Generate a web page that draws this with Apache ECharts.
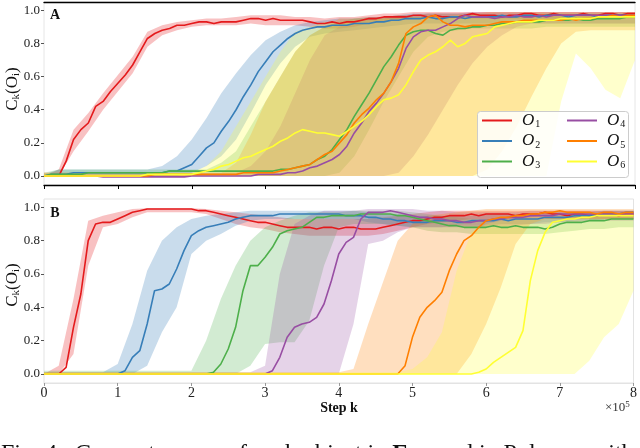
<!DOCTYPE html>
<html><head><meta charset="utf-8">
<script src="https://cdn.jsdelivr.net/npm/echarts@6/dist/echarts.min.js"></script>
<style>html,body{margin:0;padding:0;background:#fff}#c{width:640px;height:448px}</style>
</head><body><div id="c"></div>
<script>
// ---------- data ----------
const steps = [0,0.1,0.2,0.3,0.4,0.5,0.6,0.7,0.8,0.9,1,1.1,1.2,1.3,1.4,1.5,1.6,1.7,1.8,1.9,2,2.1,2.2,2.3,2.4,2.5,2.6,2.7,2.8,2.9,3,3.1,3.2,3.3,3.4,3.5,3.6,3.7,3.8,3.9,4,4.1,4.2,4.3,4.4,4.5,4.6,4.7,4.8,4.9,5,5.1,5.2,5.3,5.4,5.5,5.6,5.7,5.8,5.9,6,6.1,6.2,6.3,6.4,6.5,6.6,6.7,6.8,6.9,7,7.1,7.2,7.3,7.4,7.5,7.6,7.7,7.8,7.9,8];
const bandSteps = [0,0.2,0.4,0.6,0.8,1,1.2,1.4,1.6,1.8,2,2.2,2.4,2.6,2.8,3,3.2,3.4,3.6,3.8,4,4.2,4.4,4.6,4.8,5,5.2,5.4,5.6,5.8,6,6.2,6.4,6.6,6.8,7,7.2,7.4,7.6,7.8,8];
const objectNames = ['O1','O2','O3','O4','O5','O6'];
const xTicks = [0,1,2,3,4,5,6,7,8];
const yTicks = [0,0.2,0.4,0.6,0.8,1.0];

// Panel A means
const aO1 = [0,0,0,0.09,0.22,0.28,0.32,0.42,0.45,0.51,
 0.56,0.61,0.67,0.75,0.83,0.86,0.88,0.89,0.91,0.91,
 0.92,0.93,0.93,0.92,0.93,0.93,0.93,0.94,0.95,0.95,
 0.94,0.95,0.94,0.94,0.94,0.94,0.93,0.92,0.92,0.93,
 0.92,0.93,0.93,0.94,0.95,0.95,0.96,0.96,0.96,0.96,
 0.97,0.97,0.96,0.97,0.96,0.96,0.96,0.97,0.98,0.97,
 0.97,0.97,0.96,0.97,0.97,0.98,0.98,0.97,0.97,0.98,
 0.97,0.97,0.97,0.98,0.97,0.97,0.98,0.98,0.97,0.98,0.98];
const aO2 = [0,0.01,0.01,0.01,0.02,0.02,0.02,0.02,0.02,0.02,
 0.02,0.02,0.02,0.02,0.02,0.02,0.02,0.03,0.03,0.05,
 0.07,0.12,0.17,0.20,0.27,0.33,0.40,0.48,0.55,0.63,
 0.69,0.75,0.79,0.83,0.86,0.88,0.89,0.90,0.90,0.91,
 0.91,0.91,0.92,0.92,0.92,0.93,0.93,0.94,0.94,0.95,
 0.95,0.95,0.96,0.95,0.95,0.96,0.96,0.95,0.96,0.96,
 0.96,0.96,0.97,0.96,0.96,0.97,0.97,0.96,0.97,0.97,
 0.97,0.96,0.97,0.97,0.97,0.96,0.97,0.97,0.97,0.97,0.97];
const aO3 = [0,0.01,0.01,0.01,0.01,0.01,0.02,0.02,0.02,0.02,
 0.02,0.02,0.02,0.02,0.02,0.02,0.02,0.03,0.03,0.03,
 0.03,0.03,0.03,0.03,0.03,0.03,0.03,0.03,0.03,0.03,
 0.03,0.03,0.04,0.04,0.05,0.06,0.07,0.10,0.12,0.16,
 0.22,0.28,0.36,0.43,0.50,0.58,0.66,0.72,0.79,0.85,
 0.87,0.88,0.88,0.86,0.85,0.88,0.89,0.89,0.90,0.90,
 0.91,0.91,0.92,0.92,0.93,0.93,0.93,0.93,0.94,0.94,
 0.94,0.94,0.95,0.94,0.94,0.95,0.95,0.95,0.95,0.96,0.96];
const aO4 = [0,0,0,0,0,0,0,0,-0.005,-0.005,
 -0.005,-0.005,-0.005,-0.005,-0.005,-0.005,-0.005,-0.005,-0.005,-0.005,
 0,0,0,0,0,0,0,0,0,0.01,
 0.01,0.01,0.01,0.02,0.02,0.03,0.05,0.06,0.08,0.10,
 0.13,0.18,0.26,0.32,0.39,0.44,0.50,0.57,0.65,0.77,
 0.84,0.87,0.88,0.88,0.90,0.92,0.95,0.97,0.96,0.96,
 0.96,0.95,0.96,0.96,0.97,0.96,0.96,0.97,0.96,0.97,
 0.97,0.97,0.97,0.97,0.97,0.97,0.97,0.97,0.97,0.97,0.97];
const aO5 = [0,0,0,0,0,0,0,0,0,0,
 0,0,0,0,0,0.01,0.01,0.01,0.01,0.01,
 0.01,0.01,0.01,0.01,0.01,0.01,0.01,0.02,0.02,0.02,
 0.02,0.02,0.03,0.04,0.05,0.06,0.07,0.10,0.13,0.15,
 0.20,0.25,0.32,0.37,0.41,0.46,0.50,0.57,0.68,0.86,
 0.90,0.92,0.96,0.97,0.93,0.91,0.91,0.90,0.91,0.91,
 0.91,0.92,0.93,0.93,0.93,0.94,0.94,0.94,0.94,0.94,
 0.94,0.95,0.94,0.95,0.95,0.96,0.96,0.97,0.96,0.97,0.97];
const aO6 = [0,0,0,0,0,0,0,0,0,0,
 0,0,0,0,0.01,0.01,0.01,0.01,0.01,0.01,
 0.01,0.02,0.03,0.04,0.06,0.07,0.09,0.11,0.12,0.14,
 0.16,0.18,0.21,0.23,0.26,0.28,0.27,0.26,0.26,0.25,
 0.24,0.27,0.30,0.33,0.37,0.42,0.46,0.47,0.49,0.55,
 0.63,0.70,0.73,0.75,0.78,0.82,0.78,0.80,0.84,0.85,
 0.86,0.90,0.91,0.92,0.93,0.93,0.93,0.94,0.94,0.94,
 0.95,0.95,0.95,0.95,0.95,0.96,0.96,0.96,0.96,0.96,0.96];

// Panel A bands (lower / upper)
const aO1Lo = [0,0,0.15,0.27,0.40,0.51,0.62,0.78,0.85,0.88,0.90,0.91,0.91,0.91,0.92,0.91,0.91,0.91,0.90,0.89,0.89,0.90,0.92,0.93,0.94,0.95,0.95,0.95,0.95,0.95,0.95,0.95,0.95,0.95,0.95,0.95,0.95,0.95,0.95,0.95,0.95];
const aO1Hi = [0,0.04,0.28,0.38,0.50,0.61,0.72,0.87,0.91,0.93,0.94,0.95,0.95,0.96,0.97,0.97,0.97,0.96,0.96,0.95,0.96,0.96,0.97,0.98,0.98,0.99,0.99,0.99,0.99,0.99,0.99,0.99,0.99,0.99,0.99,0.99,0.99,0.99,0.99,0.99,0.99];
const aO2Lo = [0,0,0,0,0,0,0,0,0,0,0.02,0.06,0.12,0.22,0.38,0.55,0.68,0.78,0.84,0.86,0.87,0.88,0.89,0.90,0.91,0.92,0.92,0.92,0.92,0.92,0.92,0.92,0.92,0.92,0.92,0.92,0.92,0.92,0.92,0.92,0.92];
const aO2Hi = [0.01,0.04,0.04,0.04,0.04,0.04,0.04,0.04,0.06,0.12,0.22,0.35,0.50,0.62,0.73,0.82,0.87,0.91,0.93,0.94,0.95,0.95,0.96,0.96,0.97,0.98,0.98,0.98,0.98,0.98,0.98,0.98,0.98,0.98,0.98,0.98,0.98,0.98,0.98,0.98,0.98];
const aO3Lo = [0,0,0,0,0,0,0,0,0,0,0,0,0,0,0,0,0,0,0,0,0.02,0.12,0.28,0.45,0.60,0.75,0.84,0.87,0.88,0.89,0.89,0.89,0.89,0.89,0.90,0.90,0.90,0.90,0.90,0.90,0.90];
const aO3Hi = [0.02,0.04,0.04,0.04,0.04,0.04,0.04,0.04,0.04,0.04,0.04,0.04,0.08,0.15,0.30,0.45,0.60,0.75,0.85,0.90,0.93,0.95,0.95,0.95,0.96,0.96,0.96,0.96,0.97,0.97,0.97,0.97,0.97,0.97,0.97,0.97,0.97,0.97,0.97,0.97,0.97];
const aO4Lo = [0,0,0,0,0,0,0,0,0,0,0,0,0,0,0,0,0,0,0,0,0,0,0,0,0.02,0.12,0.25,0.40,0.55,0.68,0.78,0.85,0.90,0.92,0.92,0.92,0.92,0.92,0.92,0.92,0.92];
const aO4Hi = [0.02,0.02,0.02,0.02,0.02,0.02,0.02,0.02,0.02,0.02,0.02,0.02,0.02,0.02,0.06,0.15,0.30,0.50,0.70,0.85,0.90,0.93,0.96,0.96,0.97,0.97,0.98,0.98,0.98,0.99,0.99,0.99,0.99,0.99,0.99,0.99,0.99,0.99,0.99,0.99,0.99];
const aO5Lo = [0,0,0,0,0,0,0,0,0,0,0,0,0,0,0,0,0,0,0,0,0,0,0,0,0,0,0,0,0,0,0.04,0.15,0.30,0.48,0.65,0.80,0.87,0.88,0.88,0.88,0.88];
const aO5Hi = [0.02,0.02,0.02,0.02,0.02,0.02,0.02,0.02,0.02,0.02,0.02,0.02,0.02,0.08,0.25,0.45,0.60,0.75,0.85,0.90,0.95,0.95,0.96,0.96,0.97,0.97,0.98,0.98,0.98,0.98,0.99,0.99,0.99,0.99,0.99,0.99,0.99,0.99,0.99,0.99,0.99];
const aO6Lo = [0,0,0,0,0,0,0,0,0,0,0,0,0,0,0,0,0,0,0,0,0,0,0,0,0,0,0,0,0,0,0,0,0,0,0,0.45,0.74,0.65,0.52,0.47,0.70];
const aO6Hi = [0.02,0.02,0.02,0.02,0.02,0.02,0.02,0.02,0.02,0.02,0.02,0.06,0.15,0.30,0.45,0.60,0.75,0.87,0.90,0.93,0.93,0.94,0.94,0.95,0.95,0.96,0.96,0.96,0.97,0.97,0.97,0.97,0.97,0.98,0.98,0.98,0.98,0.98,0.98,0.98,0.98];

// Panel B means
const bO1 = [0,0,0,0.04,0.28,0.48,0.80,0.90,0.91,0.91,
 0.93,0.95,0.97,0.98,0.99,0.99,0.99,0.99,0.99,0.99,
 0.99,0.98,0.98,0.97,0.96,0.95,0.94,0.93,0.92,0.91,
 0.91,0.90,0.89,0.88,0.88,0.88,0.88,0.87,0.88,0.88,
 0.87,0.88,0.88,0.87,0.87,0.87,0.88,0.89,0.90,0.91,
 0.92,0.92,0.93,0.94,0.94,0.95,0.95,0.95,0.96,0.95,
 0.96,0.96,0.96,0.96,0.95,0.96,0.96,0.96,0.97,0.96,
 0.96,0.95,0.96,0.96,0.95,0.95,0.96,0.96,0.95,0.96,0.96];
const bO2 = [0,0,0,0,0,0,0,0,0,0,
 0,0.02,0.10,0.14,0.30,0.50,0.51,0.54,0.63,0.74,
 0.83,0.86,0.88,0.89,0.90,0.91,0.93,0.94,0.95,0.95,
 0.95,0.95,0.96,0.96,0.96,0.96,0.96,0.96,0.96,0.96,
 0.96,0.95,0.95,0.95,0.94,0.94,0.93,0.93,0.92,0.92,
 0.91,0.91,0.91,0.92,0.92,0.92,0.91,0.91,0.92,0.92,
 0.92,0.92,0.93,0.92,0.93,0.93,0.93,0.93,0.94,0.94,
 0.94,0.94,0.95,0.95,0.95,0.95,0.96,0.96,0.96,0.97,0.97];
const bO3 = [0,0,0,0,0,0,0,0,0,0,
 0,0,0,0,0,0,0,0,0,0,
 0,0,0,0.01,0.06,0.15,0.28,0.50,0.65,0.65,
 0.70,0.76,0.84,0.86,0.87,0.88,0.91,0.94,0.94,0.95,
 0.95,0.95,0.95,0.96,0.96,0.96,0.96,0.96,0.95,0.95,
 0.94,0.93,0.92,0.91,0.90,0.89,0.89,0.88,0.88,0.88,
 0.88,0.89,0.88,0.88,0.89,0.88,0.88,0.88,0.87,0.88,
 0.90,0.91,0.91,0.91,0.92,0.92,0.92,0.93,0.93,0.93,0.93];
const bO4 = [0,0,0,0,0,0,0,0,0,0,
 0,0,0,0,0,0,0,0,0,0,
 0,0,0,0,0,0,0,0,0,0,
 0,0.02,0.10,0.22,0.28,0.30,0.31,0.34,0.42,0.56,
 0.72,0.79,0.82,0.93,0.97,0.97,0.97,0.98,0.97,0.96,
 0.95,0.94,0.94,0.93,0.93,0.92,0.92,0.91,0.91,0.92,
 0.92,0.93,0.93,0.94,0.94,0.94,0.95,0.95,0.95,0.95,
 0.96,0.96,0.96,0.96,0.96,0.96,0.96,0.96,0.96,0.96,0.96];
const bO5 = [0,0,0,0,0,0,0,0,0,0,
 0,0,0,0,0,0,0,0,0,0,
 0,0,0,0,0,0,0,0,0,0,
 0,0,0,0,0,0,0,0,0,0,
 0,0,0,0,0,0,0,0,0,0.05,
 0.22,0.34,0.40,0.44,0.49,0.62,0.72,0.80,0.83,0.88,
 0.92,0.93,0.94,0.94,0.95,0.95,0.96,0.96,0.97,0.97,
 0.98,0.97,0.97,0.97,0.97,0.96,0.97,0.97,0.96,0.97,0.97];
const bO6 = [0,0,0,0,0,0,0,0,0,0,
 0,0,0,0,0,0,0,0,0,0,
 0,0,0,0,0,0,0,0,0,0,
 0,0,0,0,0,0,0,0,0,0,
 0,0,0,0,0,0,0,0,0,0,
 0,0,0,0,0,0,0,0,0,0.01,
 0.03,0.07,0.10,0.13,0.16,0.26,0.56,0.74,0.85,0.91,
 0.92,0.93,0.93,0.94,0.94,0.95,0.95,0.95,0.95,0.95,0.95];

// Panel B bands (lower / upper)
const bO1Lo = [0,0,0.12,0.65,0.88,0.90,0.94,0.97,0.97,0.97,0.97,0.96,0.93,0.90,0.88,0.87,0.85,0.84,0.83,0.83,0.83,0.83,0.83,0.84,0.86,0.88,0.90,0.91,0.92,0.93,0.93,0.93,0.93,0.93,0.93,0.93,0.93,0.93,0.93,0.93,0.93];
const bO1Hi = [0,0.05,0.45,0.92,0.95,0.97,0.99,0.995,0.995,0.995,0.995,0.99,0.98,0.97,0.96,0.95,0.94,0.93,0.93,0.93,0.93,0.93,0.93,0.94,0.95,0.96,0.97,0.98,0.98,0.98,0.98,0.98,0.98,0.98,0.98,0.98,0.98,0.98,0.98,0.98,0.98];
const bO2Lo = [0,0,0,0,0,0,0,0.05,0.25,0.40,0.72,0.80,0.84,0.89,0.92,0.93,0.93,0.93,0.93,0.93,0.93,0.93,0.91,0.90,0.89,0.88,0.88,0.88,0.89,0.89,0.89,0.90,0.90,0.90,0.91,0.91,0.92,0.92,0.93,0.93,0.93];
const bO2Hi = [0.01,0.01,0.01,0.01,0.01,0.06,0.30,0.62,0.80,0.88,0.93,0.95,0.96,0.97,0.98,0.98,0.98,0.98,0.98,0.98,0.98,0.98,0.97,0.96,0.96,0.95,0.95,0.95,0.95,0.95,0.96,0.96,0.96,0.96,0.97,0.97,0.97,0.97,0.98,0.98,0.98];
const bO3Lo = [0,0,0,0,0,0,0,0,0,0,0,0,0,0,0.05,0.18,0.19,0.19,0.32,0.65,0.88,0.90,0.90,0.90,0.89,0.88,0.86,0.85,0.85,0.84,0.84,0.84,0.84,0.84,0.84,0.85,0.86,0.87,0.87,0.88,0.88];
const bO3Hi = [0.02,0.02,0.02,0.02,0.02,0.02,0.02,0.02,0.02,0.02,0.02,0.20,0.45,0.65,0.80,0.88,0.92,0.95,0.97,0.97,0.97,0.98,0.98,0.98,0.98,0.97,0.96,0.95,0.94,0.93,0.93,0.93,0.93,0.93,0.93,0.94,0.95,0.96,0.96,0.96,0.96];
const bO4Lo = [0,0,0,0,0,0,0,0,0,0,0,0,0,0,0,0,0,0,0,0,0,0.30,0.78,0.80,0.85,0.88,0.88,0.88,0.88,0.88,0.88,0.89,0.89,0.90,0.90,0.91,0.91,0.92,0.92,0.92,0.92];
const bO4Hi = [0.01,0.01,0.01,0.01,0.01,0.01,0.01,0.01,0.01,0.01,0.01,0.01,0.01,0.01,0.01,0.05,0.60,0.90,0.95,0.98,0.98,0.98,0.99,0.99,0.99,0.99,0.98,0.98,0.97,0.97,0.97,0.97,0.97,0.98,0.98,0.98,0.98,0.98,0.98,0.98,0.98];
const bO5Lo = [0,0,0,0,0,0,0,0,0,0,0,0,0,0,0,0,0,0,0,0,0,0,0,0,0,0,0,0,0,0.12,0.30,0.52,0.78,0.90,0.93,0.93,0.93,0.93,0.93,0.93,0.93];
const bO5Hi = [0.01,0.01,0.01,0.01,0.01,0.01,0.01,0.01,0.01,0.01,0.01,0.01,0.01,0.01,0.01,0.01,0.01,0.01,0.01,0.01,0.01,0.03,0.30,0.55,0.80,0.90,0.95,0.96,0.97,0.98,0.99,0.99,0.99,0.99,0.99,0.99,0.99,0.99,0.99,0.99,0.99];
const bO6Lo = [0,0,0,0,0,0,0,0,0,0,0,0,0,0,0,0,0,0,0,0,0,0,0,0,0,0,0,0,0,0,0,0,0,0,0,0,0,0.08,0.22,0.30,0.50];
const bO6Hi = [0.01,0.01,0.01,0.01,0.01,0.01,0.01,0.01,0.01,0.01,0.01,0.01,0.01,0.01,0.01,0.01,0.01,0.01,0.01,0.01,0.01,0.01,0.01,0.01,0.01,0.03,0.10,0.25,0.62,0.85,0.90,0.92,0.93,0.94,0.95,0.95,0.95,0.95,0.96,0.96,0.96];

// ---------- styles ----------
const serif = 'Liberation Serif';
const lineColors = ['#e41a1c','#377eb8','#4daf4a','#984ea3','#ff7f00','#ffff33'];
const bandColors = ['rgba(228,26,28,0.27)','rgba(55,126,184,0.27)','rgba(77,175,74,0.25)','rgba(152,78,163,0.25)','rgba(255,127,0,0.25)','rgba(255,255,51,0.25)'];

const panelA = {means:[aO1,aO2,aO3,aO4,aO5,aO6], lo:[aO1Lo,aO2Lo,aO3Lo,aO4Lo,aO5Lo,aO6Lo], hi:[aO1Hi,aO2Hi,aO3Hi,aO4Hi,aO5Hi,aO6Hi]};
const panelB = {means:[bO1,bO2,bO3,bO4,bO5,bO6], lo:[bO1Lo,bO2Lo,bO3Lo,bO4Lo,bO5Lo,bO6Lo], hi:[bO1Hi,bO2Hi,bO3Hi,bO4Hi,bO5Hi,bO6Hi]};

function bandSeries(xi, yi, lo, hi, color, z) {
  return {
    type: 'custom', xAxisIndex: xi, yAxisIndex: yi, silent: true, clip: true,
    animation: false, z: z, data: [[0, 0]], encode: {x: 0, y: 1},
    renderItem: function (params, api) {
      const pts = [];
      for (let i = 0; i < bandSteps.length; i++) pts.push(api.coord([bandSteps[i], hi[i]]));
      for (let i = bandSteps.length - 1; i >= 0; i--) pts.push(api.coord([bandSteps[i], lo[i]]));
      return {type: 'polygon', shape: {points: pts}, style: {fill: color}};
    }
  };
}
function lineSeries(xi, yi, name, vals, color) {
  return {
    type: 'line', name: name, xAxisIndex: xi, yAxisIndex: yi, showSymbol: false, symbol: 'none',
    animation: false, z: 3, silent: true,
    data: steps.map((s, i) => [s, vals[i]]),
    lineStyle: {color: color, width: 1.6}, itemStyle: {color: color}
  };
}

const series = [];
[[panelA, 0, 0], [panelB, 2, 1]].forEach(function (p) {
  const d = p[0], xi = p[1], yi = p[2];
  for (let k = 0; k < 6; k++) series.push(bandSeries(xi, yi, d.lo[k], d.hi[k], bandColors[k], 1));
  for (let k = 0; k < 6; k++) series.push(lineSeries(xi, yi, objectNames[k], d.means[k], lineColors[k]));
});

function yAxisDef(gi) {
  return {
    type: 'value', gridIndex: gi, min: -0.054, max: 1.05,
    axisLine: {show: false}, splitLine: {show: false},
    axisTick: {show: true, length: 3, customValues: yTicks, lineStyle: {color: '#555'}},
    axisLabel: {customValues: yTicks, formatter: v => v.toFixed(1), fontFamily: serif, fontSize: 13, color: '#222', margin: 4}
  };
}

const legendText = {
  fontFamily: serif, color: '#111', padding: [0, 0, 0, 5],
  rich: {
    o: {fontFamily: serif, fontStyle: 'italic', fontSize: 17, color: '#111'},
    s: {fontFamily: serif, fontSize: 10, color: '#111', padding: [8, 0, 0, 1]}
  }
};
const legendFmt = name => '{o|O}{s|' + name.substring(1) + '}';

const yLabelRich = {a: {fontFamily: serif, fontSize: 17, fill: '#111'}, b: {fontFamily: serif, fontSize: 11, fill: '#111', padding: [8, 0, 0, 0]}};

const option = {
  backgroundColor: '#fff',
  animation: false,
  grid: [
    {left: 44, right: 5, top: 2, height: 183, show: true, borderColor: '#e6e6e6', borderWidth: 1, backgroundColor: 'transparent'},
    {left: 44, right: 5, top: 199, height: 184, show: true, borderColor: '#e3e3e3', borderWidth: 1, backgroundColor: 'transparent'}
  ],
  xAxis: [
    {type: 'value', gridIndex: 0, min: 0, max: 8, interval: 1,
     axisLine: {show: true, onZero: false, lineStyle: {color: '#000', width: 1.4}},
     axisTick: {show: true, length: 4, lineStyle: {color: '#000'}},
     axisLabel: {show: false}, splitLine: {show: false}},
    {type: 'value', gridIndex: 0, position: 'top', min: 0, max: 8, interval: 1,
     axisLine: {show: true, onZero: false, lineStyle: {color: '#000', width: 1.4}},
     axisTick: {show: false}, axisLabel: {show: false}, splitLine: {show: false}},
    {type: 'value', gridIndex: 1, min: 0, max: 8, interval: 1,
     axisLine: {show: true, onZero: false, lineStyle: {color: '#e3e3e3', width: 1}},
     axisTick: {show: true, length: 3, lineStyle: {color: '#999'}},
     axisLabel: {show: true, fontFamily: serif, fontSize: 14, color: '#222', margin: 3,
                 formatter: v => xTicks.indexOf(v) >= 0 ? String(v) : ''},
     splitLine: {show: false}}
  ],
  yAxis: [yAxisDef(0), yAxisDef(1)],
  legend: [
    {data: ['O1', 'O2', 'O3'], orient: 'vertical', left: 482, top: 112, padding: 0, itemGap: 3,
     icon: 'rect', itemWidth: 30, itemHeight: 2, formatter: legendFmt, textStyle: legendText, z: 10, selectedMode: false},
    {data: ['O4', 'O5', 'O6'], orient: 'vertical', left: 567, top: 112, padding: 0, itemGap: 3,
     icon: 'rect', itemWidth: 30, itemHeight: 2, formatter: legendFmt, textStyle: legendText, z: 10, selectedMode: false}
  ],
  graphic: [
    {type: 'rect', z: 8, shape: {x: 477.5, y: 111.5, width: 151, height: 66, r: 3},
     style: {fill: 'rgba(255,255,255,0.85)', stroke: '#cccccc', lineWidth: 1}},
    {type: 'text', z: 9, x: 55, y: 15, style: {text: 'A', fontFamily: serif, fontWeight: 'bold', fontSize: 14, fill: '#111', align: 'center', verticalAlign: 'middle'}},
    {type: 'text', z: 9, x: 55, y: 213, style: {text: 'B', fontFamily: serif, fontWeight: 'bold', fontSize: 14, fill: '#111', align: 'center', verticalAlign: 'middle'}},
    {type: 'text', z: 9, x: 12.5, y: 89, rotation: Math.PI / 2,
     style: {text: '{a|C}{b|k}{a|(O}{b|i}{a|)}', align: 'center', verticalAlign: 'middle', rich: yLabelRich}},
    {type: 'text', z: 9, x: 12.5, y: 285, rotation: Math.PI / 2,
     style: {text: '{a|C}{b|k}{a|(O}{b|i}{a|)}', align: 'center', verticalAlign: 'middle', rich: yLabelRich}},
    {type: 'text', z: 9, x: 339, y: 408, style: {text: 'Step k', fontFamily: serif, fontWeight: 'bold', fontSize: 14, fill: '#111', align: 'center', verticalAlign: 'middle'}},
    {type: 'text', z: 9, x: 605, y: 408,
     style: {text: '{a|×10}{b|5}', align: 'left', verticalAlign: 'middle',
             rich: {a: {fontFamily: serif, fontSize: 13, fill: '#333'}, b: {fontFamily: serif, fontSize: 9, fill: '#333', padding: [0, 0, 7, 0]}}}},
    {type: 'text', z: 9, x: 1, y: 454,
     style: {text: 'Fig. 4.  Concept scores of each object in {b|E}nv and in Polymer with', fontFamily: serif, fontSize: 24, fill: '#111',
             align: 'left', verticalAlign: 'middle',
             rich: {b: {fontFamily: serif, fontSize: 24, fontWeight: 'bold', fill: '#111'}}}}
  ],
  series: series
};

const chart = echarts.init(document.getElementById('c'), null, {renderer: 'canvas', width: 640, height: 448});
chart.setOption(option);
</script>
</body></html>
